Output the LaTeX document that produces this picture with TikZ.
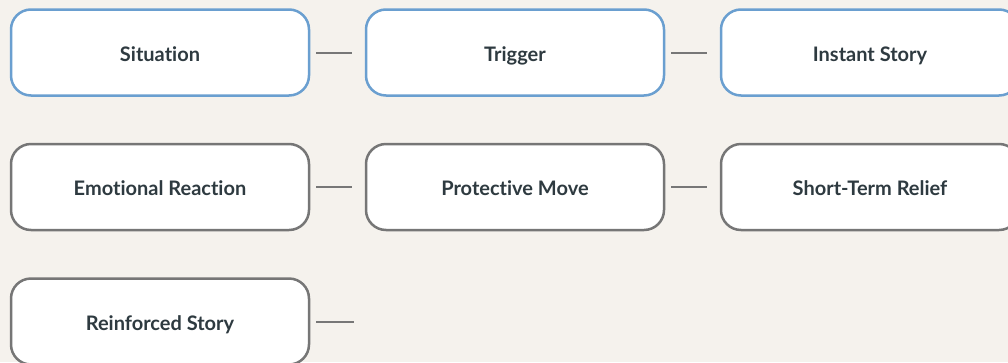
\documentclass[tikz,border=0pt]{standalone}
\usepackage{fontspec}
\setmainfont[Ligatures=NoCommon]{Lato}
\definecolor{paper}{HTML}{F5F2ED}
\definecolor{bluerim}{HTML}{6A9FD0}
\definecolor{greyrim}{HTML}{767676}
\definecolor{ink}{HTML}{2E3A40}
\definecolor{linkgrey}{HTML}{777777}
\tikzset{
  card/.style={draw, fill=white, line width=2.5pt, rounded corners=20pt,
    minimum width=298pt, minimum height=86pt, inner sep=0pt,
    text height=17pt, text depth=0pt,
    font=\fontsize{20}{24}\selectfont\bfseries, text=ink},
  bluecard/.style={card, draw=bluerim},
  greycard/.style={card, draw=greyrim},
  link/.style={draw=linkgrey, line width=2pt}
}
\begin{document}
\begin{tikzpicture}[x=1pt,y=-1pt]
  \fill[paper] (0,0) rectangle (1008,362);
  \useasboundingbox (0,0) rectangle (1008,362);
  \clip (0,0) rectangle (1008,362);

  % first row: blue outlines
  \node[bluecard] (situation) at (160,52.5) {Situation};
  \node[bluecard] (trigger)   at (515,52.5) {Trigger};
  \node[bluecard] (instant)   at (870,52.5) {Instant Story};

  % second row
  \node[greycard] (emotion)   at (160,187) {Emotional Reaction};
  \node[greycard] (protect)   at (515,187) {Protective Move};
  \node[greycard] (relief)    at (870,187) {Short-Term Relief};

  % third row
  \node[greycard] (reinforce) at (160,321.5) {Reinforced Story};
  \coordinate (tail) at ([xshift=44pt]reinforce.east);

  % short links between neighbouring cards
  \draw[link] ([xshift=6pt]situation.east) -- ([xshift=-13pt]trigger.west);
  \draw[link] ([xshift=6pt]trigger.east)   -- ([xshift=-13pt]instant.west);
  \draw[link] ([xshift=6pt]emotion.east)   -- ([xshift=-13pt]protect.west);
  \draw[link] ([xshift=6pt]protect.east)   -- ([xshift=-13pt]relief.west);
  \draw[link] ([xshift=6pt]reinforce.east) -- (tail);
\end{tikzpicture}
\end{document}
